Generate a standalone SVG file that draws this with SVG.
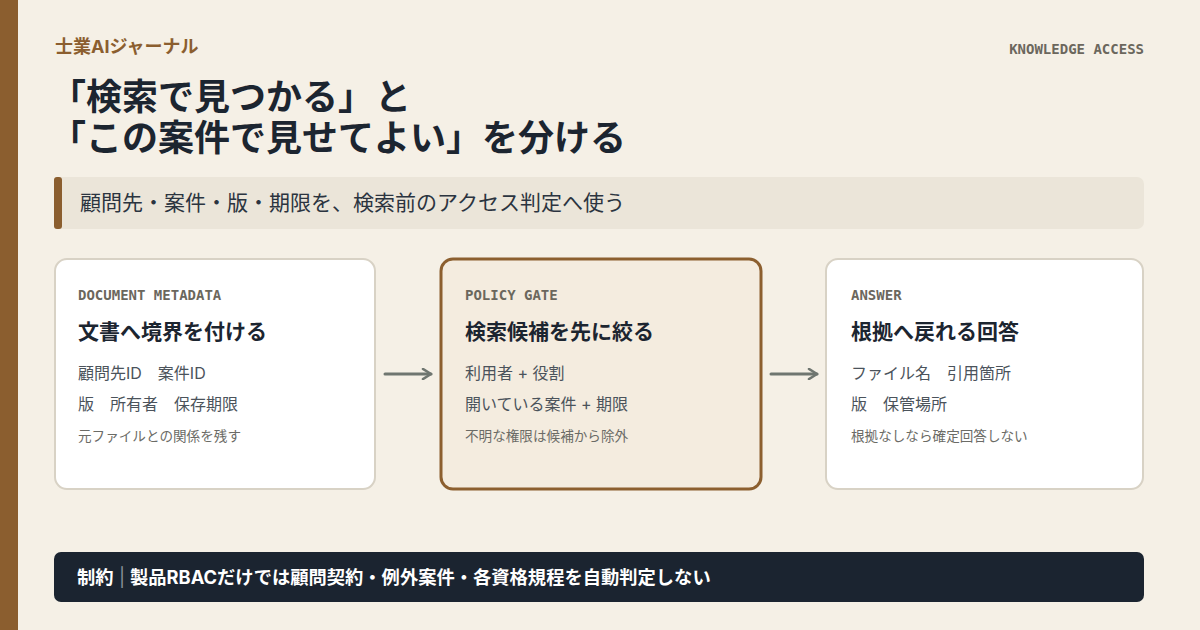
<svg xmlns="http://www.w3.org/2000/svg" width="1200" height="630" viewBox="0 0 1200 630">
<defs>
<style>
.sans{font-family:"Noto Sans CJK JP","Noto Sans",sans-serif;}
.body{font-family:Inter,"Noto Sans CJK JP",sans-serif;}
.mono{font-family:"DejaVu Sans Mono","Liberation Mono",monospace;font-weight:bold;font-size:14px;fill:#6b675d;}
.card{fill:#ffffff;stroke:#d8d2c5;stroke-width:2;}
.cardHi{fill:#f4ecdf;stroke:#8c5f2f;stroke-width:3;}
.ctitle{font-family:"Noto Sans CJK JP",sans-serif;font-weight:bold;font-size:21px;fill:#1c2530;}
.cline{font-family:Inter,"Noto Sans CJK JP",sans-serif;font-size:16px;fill:#4b535b;}
.cnote{font-family:Inter,"Noto Sans CJK JP",sans-serif;font-size:13.6px;fill:#6b6b66;}
.conn{stroke:#6f7670;stroke-width:3;fill:none;stroke-linecap:round;}
</style>
<marker id="arrow" viewBox="0 0 12 12" refX="10" refY="6" markerWidth="12" markerHeight="12" markerUnits="userSpaceOnUse" orient="auto">
<path d="M2,1 L10,6 L2,11" fill="none" stroke="#6f7670" stroke-width="2.6" stroke-linecap="round" stroke-linejoin="round"/>
</marker>
</defs>
<rect width="1200" height="630" fill="#f5f0e6"/>
<rect x="0" y="0" width="18" height="630" fill="#8b5e2f"/>

<g id="header">
<text x="55" y="53" class="body" font-size="18" font-weight="bold" fill="#8b5e2f">士業AIジャーナル</text>
<text x="1144" y="54" class="mono" text-anchor="end">KNOWLEDGE ACCESS</text>
<text class="sans" font-size="36" font-weight="bold" fill="#1c2530"><tspan x="50" y="110">「検索で見つかる」</tspan><tspan x="375" y="110">と</tspan><tspan x="50" y="151">「この案件で見せてよい」</tspan><tspan x="482" y="151">を分ける</tspan></text>
</g>

<g id="subtitle">
<rect x="54" y="177" width="1090" height="52" rx="7" fill="#ebe5d9"/>
<rect x="54" y="177" width="8" height="52" rx="3" fill="#8b5e2f"/>
<text x="80" y="210" class="sans" font-size="21" fill="#2b3440">顧問先・案件・版・期限を、検索前のアクセス判定へ使う</text>
</g>

<g id="connectors">
<line x1="385" y1="374" x2="431" y2="374" class="conn" marker-end="url(#arrow)"/>
<line x1="771" y1="374" x2="817" y2="374" class="conn" marker-end="url(#arrow)"/>
</g>

<g id="node-metadata">
<rect x="55" y="259" width="320" height="230" rx="12" class="card"/>
<text x="78" y="300" class="mono">DOCUMENT METADATA</text>
<text x="78" y="339" class="ctitle">文書へ境界を付ける</text>
<text x="78" y="379" class="cline">顧問先ID　案件ID</text>
<text x="78" y="410" class="cline">版　所有者　保存期限</text>
<text x="78" y="441" class="cnote">元ファイルとの関係を残す</text>
</g>

<g id="node-policy">
<rect x="441" y="259" width="320" height="230" rx="12" class="cardHi"/>
<text x="465" y="300" class="mono">POLICY GATE</text>
<text x="465" y="339" class="ctitle">検索候補を先に絞る</text>
<text x="465" y="379" class="cline">利用者 + 役割</text>
<text x="465" y="410" class="cline">開いている案件 + 期限</text>
<text x="465" y="441" class="cnote">不明な権限は候補から除外</text>
</g>

<g id="node-answer">
<rect x="826" y="259" width="317" height="230" rx="12" class="card"/>
<text x="851" y="300" class="mono">ANSWER</text>
<text x="851" y="339" class="ctitle">根拠へ戻れる回答</text>
<text x="851" y="379" class="cline">ファイル名　引用箇所</text>
<text x="851" y="410" class="cline">版　保管場所</text>
<text x="851" y="441" class="cnote">根拠なしなら確定回答しない</text>
</g>

<g id="footer">
<rect x="54" y="552" width="1090" height="50" rx="7" fill="#1b2430"/>
<text y="584" class="body" font-size="18.3" font-weight="bold" fill="#ffffff"><tspan x="77">制約</tspan><tspan x="119" fill="#8a929c" font-weight="normal">|</tspan><tspan x="130">製品RBACだけでは顧問契約・例外案件・各資格規程を自動判定しない</tspan></text>
</g>
</svg>
